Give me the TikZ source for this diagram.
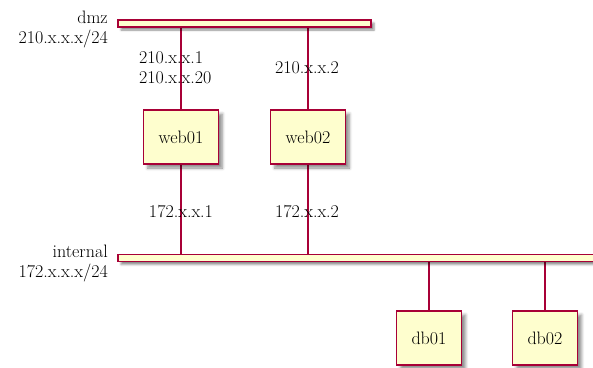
\documentclass[tikz,border=0pt]{standalone}
\usepackage{fontspec}
\usetikzlibrary{shadows.blur}
\pgfdeclarelayer{edgelayer}
\pgfdeclarelayer{nodelayer}
\pgfsetlayers{edgelayer,nodelayer,main}
\definecolor{boxfill}{HTML}{FEFECE}
\definecolor{boxline}{HTML}{A80036}
\tikzstyle{wire}=[draw=boxline, line width=1.2pt]
\tikzstyle{netbar}=[rectangle, fill=boxfill, draw=boxline, line width=1.2pt, inner sep=0pt, minimum height=7pt, blur shadow={shadow xshift=3pt, shadow yshift=-3pt, shadow blur radius=2pt, shadow opacity=45}]
\tikzstyle{host}=[rectangle, fill=boxfill, draw=boxline, line width=1.2pt, inner xsep=15pt, minimum height=54pt, font=\fontsize{18}{20}\selectfont, blur shadow={shadow xshift=4pt, shadow yshift=-4pt, shadow blur radius=3pt, shadow opacity=45}]
\tikzstyle{addr}=[inner sep=0pt, font=\fontsize{18}{20}\selectfont]

\begin{document}
\begin{tikzpicture}[x=1pt, y=-1pt]
						\useasboundingbox (0, 0) rectangle (593, 367);
						\begin{pgfonlayer}{nodelayer}
							\node [style=netbar, minimum width=253pt] (dmz) at (244.5, 23.5) {};
							\node [style=netbar, minimum width=482pt] (internal) at (359, 258) {};
							\node [style=addr, anchor=base east] (dmzname) at (108, 23) {dmz};
							\node [style=addr, anchor=base east] (dmznet) at (108, 43) {210.x.x.x/24};
							\node [style=addr, anchor=base east] (intname) at (108, 257) {internal};
							\node [style=addr, anchor=base east] (intnet) at (108, 277) {172.x.x.x/24};
							\node [style=host] (web01) at (181, 137) {web01};
							\node [style=host] (web02) at (308, 137) {web02};
							\node [style=host] (db01) at (429, 338) {db01};
							\node [style=host] (db02) at (545, 338) {db02};
						\end{pgfonlayer}
						\begin{pgfonlayer}{edgelayer}
							\draw [style=wire] (web01) to (web01 |- dmz);
							\draw [style=wire] (web02) to (web02 |- dmz);
							\draw [style=wire] (web01) to (web01 |- internal);
							\draw [style=wire] (web02) to (web02 |- internal);
							\draw [style=wire] (db01) to (db01 |- internal);
							\draw [style=wire] (db02) to (db02 |- internal);
						\end{pgfonlayer}
						\node [style=addr, anchor=base west] (web01a) at (139, 63) {210.x.x.1};
						\node [style=addr, anchor=base west] (web01b) at (139, 83) {210.x.x.20};
						\node [style=addr, anchor=base] (web02a) at (307, 73) {210.x.x.2};
						\node [style=addr, anchor=base] (web01c) at (181, 217) {172.x.x.1};
						\node [style=addr, anchor=base] (web02c) at (307, 217) {172.x.x.2};
					\end{tikzpicture}
\end{document}
